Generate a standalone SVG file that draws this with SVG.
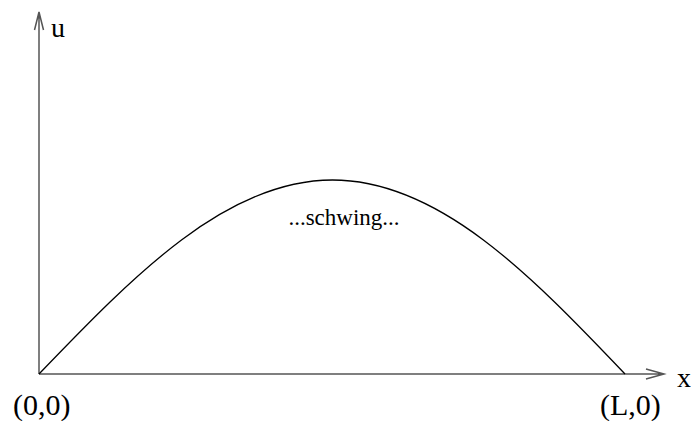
<svg xmlns="http://www.w3.org/2000/svg" width="691" height="421" viewBox="0 0 691 421">
<defs>
<style>
.ax{stroke:#555;stroke-width:1.5;fill:none}
.cv{stroke:#000;stroke-width:1.3;fill:none}
</style>
</defs>
<rect width="691" height="421" fill="#fff"/>
<g id="connectors">
<path class="ax" d="M39,374 V12 M34.5,30 L39,12 L43.5,30"/>
<path class="ax" d="M39,374 H664 M646,369 L664,374 L646,379"/>
</g>
<g id="curve">
<path class="cv" d="M39,374 C134.7,274.6 226.3,180 332.5,180 C438.7,180 530.3,274.6 625,374"/>
</g>
<g id="labels" font-family="Liberation Serif, serif" fill="#000">
<text x="51" y="37" font-size="28px">u</text>
<text x="677" y="387" font-size="28px">x</text>
<text x="13" y="415" font-size="30px">(0,0)</text>
<text x="600" y="415" font-size="30px">(L,0)</text>
<text x="344" y="225" font-size="23px" text-anchor="middle">...schwing...</text>
</g>
</svg>
